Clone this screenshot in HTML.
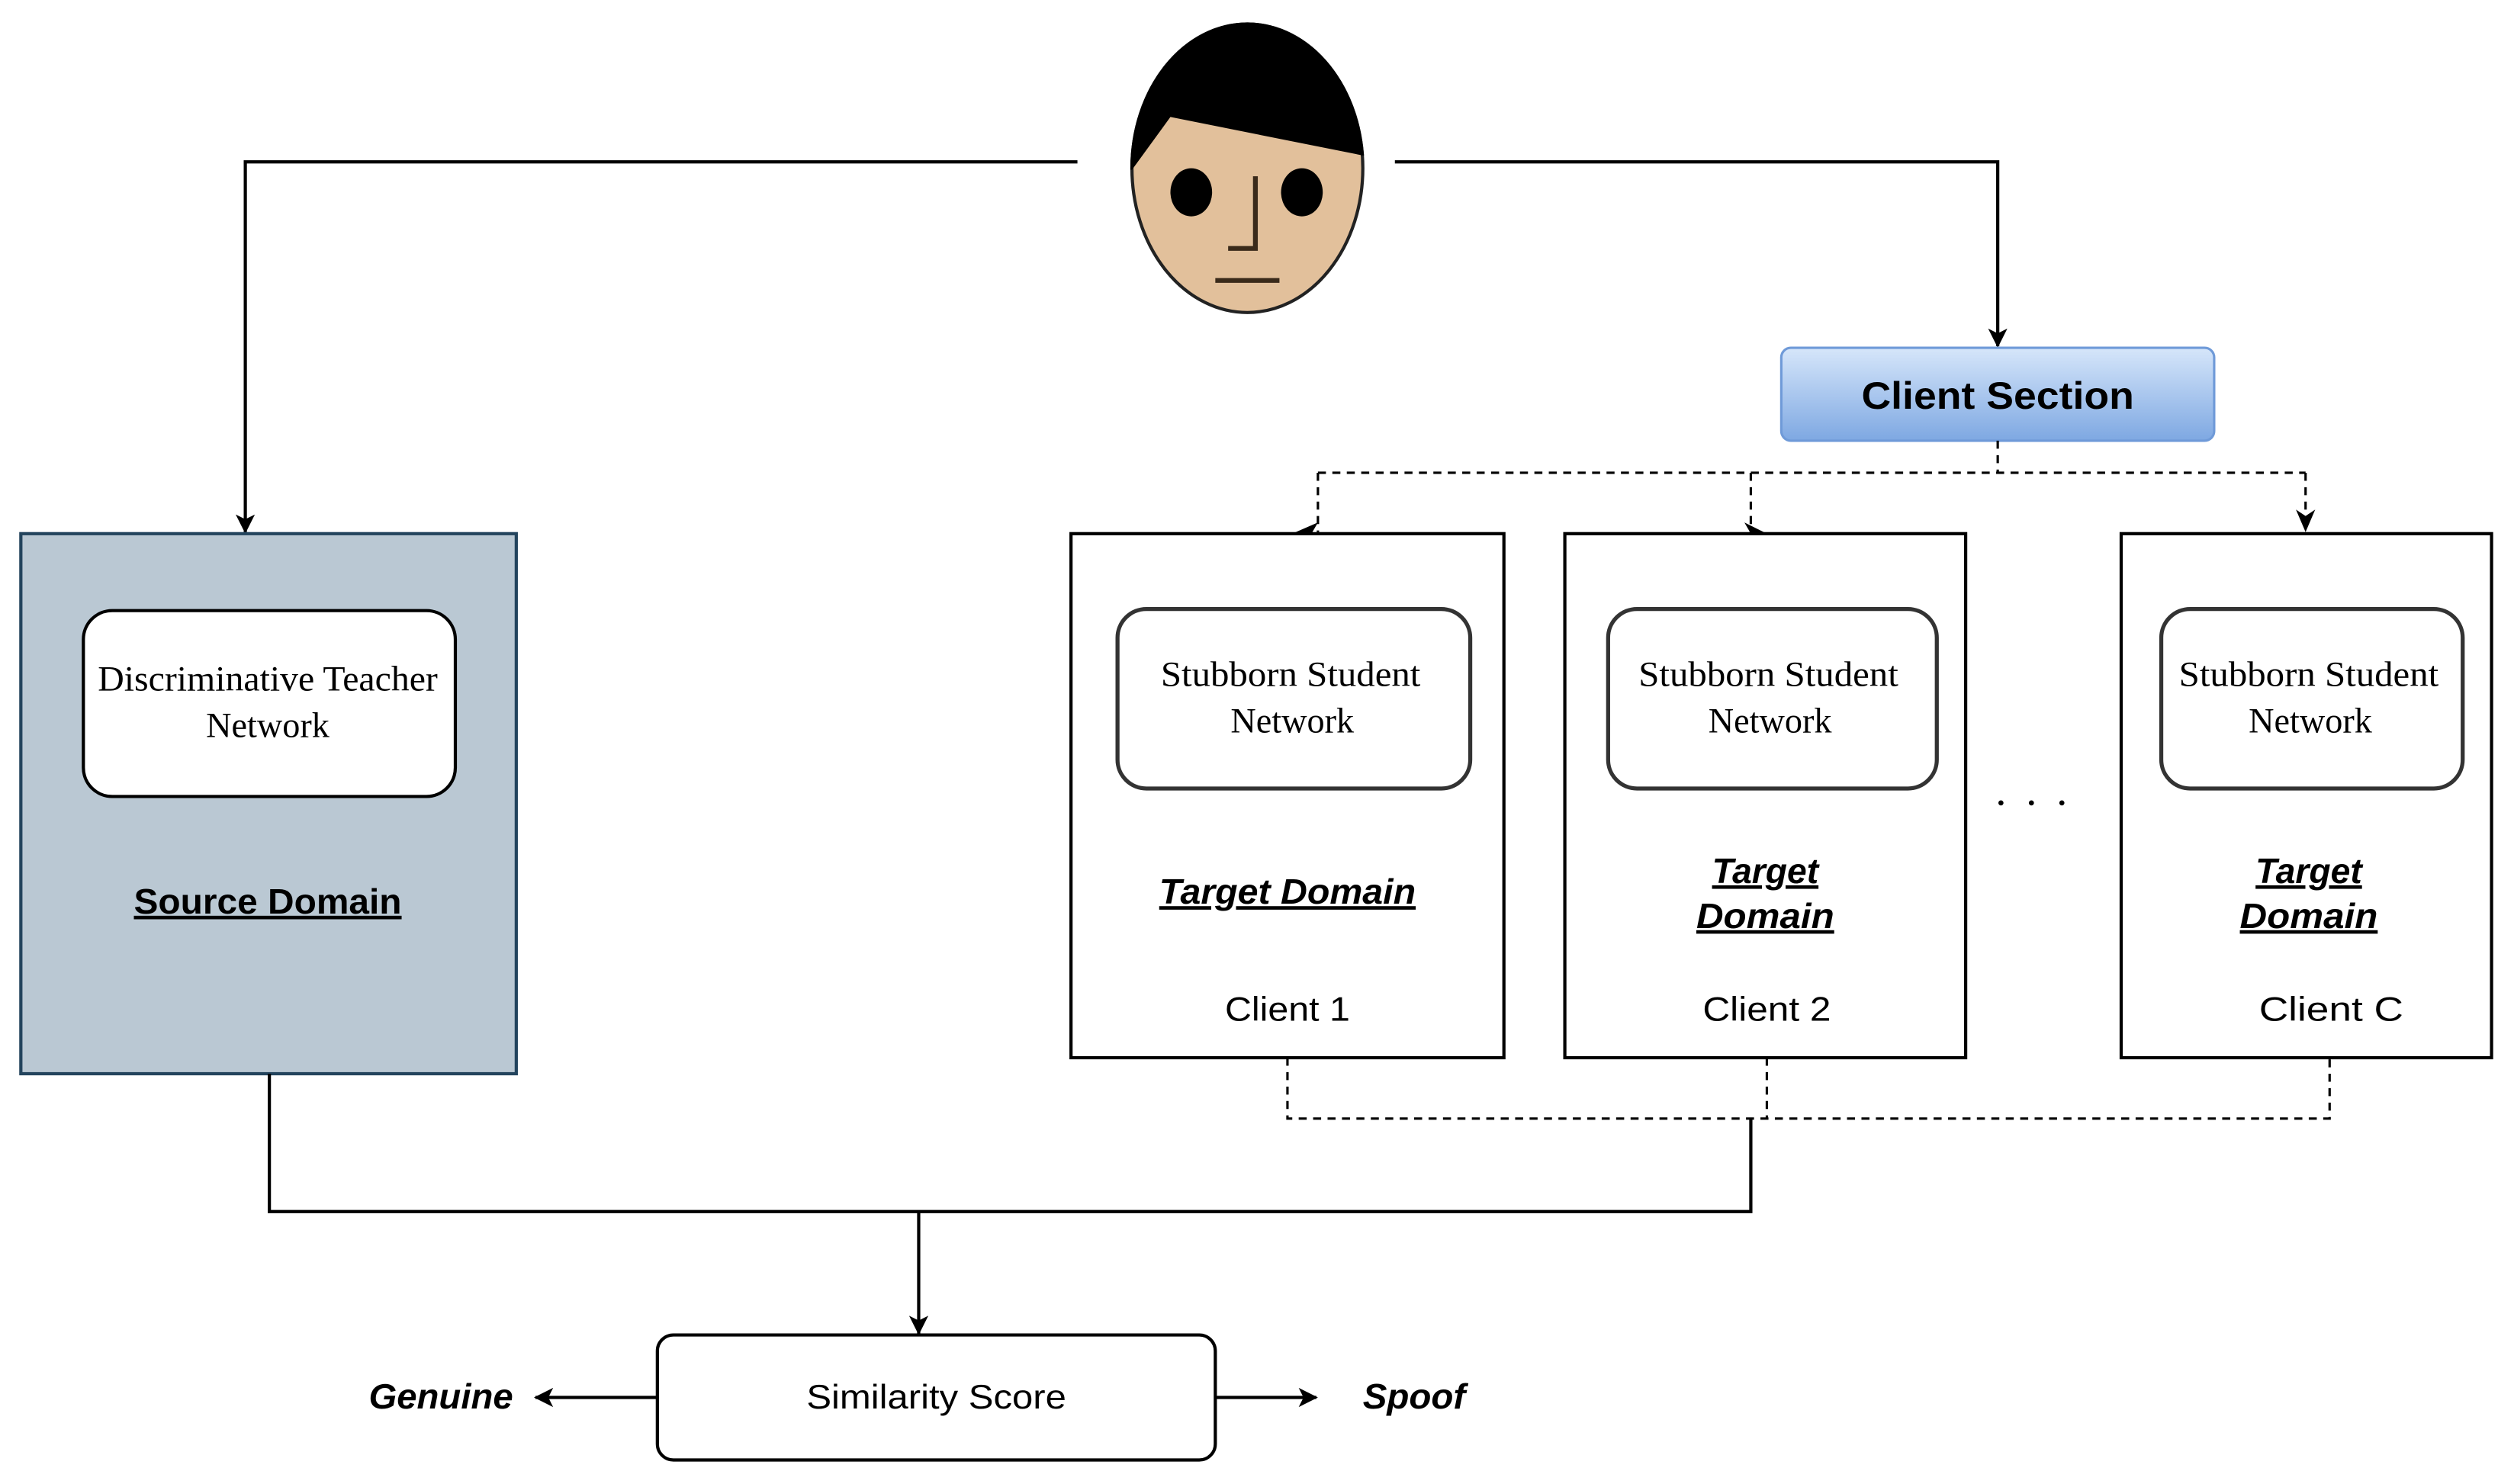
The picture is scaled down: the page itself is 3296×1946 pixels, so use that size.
<!DOCTYPE html>
<html><head><meta charset="utf-8"><style>
html,body{margin:0;padding:0;background:#fff;width:3296px;height:1946px;overflow:hidden}
svg{display:block}
</style></head><body>
<svg width="3296" height="1946" viewBox="0 0 1568 926" preserveAspectRatio="none" xmlns="http://www.w3.org/2000/svg">
<defs>
<linearGradient id="g" x1="0" y1="0" x2="0" y2="1"><stop offset="0" stop-color="#d6e6fa"/><stop offset="1" stop-color="#7ea8e2"/></linearGradient>
<marker id="a" markerWidth="12" markerHeight="12" refX="11" refY="6" orient="auto" markerUnits="userSpaceOnUse"><path d="M0,0 L12,6 L0,12 L3,6 Z" fill="#000"/></marker>
<clipPath id="hc"><polygon points="690,0 870,0 870,97 850,97 730,73 706,106 690,106"/></clipPath>
</defs>
<!-- face -->
<ellipse cx="778" cy="105" rx="72" ry="90" fill="#e2c09b" stroke="#222" stroke-width="2"/>
<ellipse cx="778" cy="105" rx="73" ry="91" fill="#000" clip-path="url(#hc)"/>
<ellipse cx="743" cy="120" rx="13" ry="15" fill="#000"/>
<ellipse cx="812" cy="120" rx="13" ry="15" fill="#000"/>
<path d="M783,110 V155 H766" fill="none" stroke="#3a2a1a" stroke-width="3"/>
<line x1="758" y1="175" x2="798" y2="175" stroke="#3a2a1a" stroke-width="3"/>
<!-- top connectors -->
<path d="M672,101 H153 V332" fill="none" stroke="#000" stroke-width="2" marker-end="url(#a)"/>
<path d="M870,101 H1246 V216" fill="none" stroke="#000" stroke-width="2" marker-end="url(#a)"/>
<!-- client section -->
<rect x="1111" y="217" width="270" height="58" rx="6" fill="url(#g)" stroke="#6f9ad8" stroke-width="1.5"/>
<text x="1246" y="255" font-family="Liberation Sans, sans-serif" font-weight="bold" font-size="24" text-anchor="middle" textLength="170" lengthAdjust="spacingAndGlyphs">Client Section</text>
<!-- dashed distribution -->
<g fill="none" stroke="#000" stroke-width="1.5" stroke-dasharray="5,4">
<path d="M1246,275 V295"/>
<path d="M822,295 H1438"/>
<path d="M822,295 V332"/>
<path d="M1092,295 V332"/>
<path d="M1438,295 V330"/>
<path d="M803,660 V698 H1453 V660"/>
<path d="M1102,660 V698"/>
</g>
<path d="M822,326 L806,333 L822,340 L818,333 Z" fill="#000"/>
<path d="M1088,326 L1102,333 L1088,340 L1092,333 Z" fill="#000"/>
<path d="M1432,318 L1438,332 L1444,318 L1438,322 Z" fill="#000"/>
<!-- source box -->
<rect x="13" y="333" width="309" height="337" fill="#bac8d3" stroke="#23445d" stroke-width="2"/>
<rect x="52" y="381" width="232" height="116" rx="18" fill="#fff" stroke="#000" stroke-width="2"/>
<g font-family="Liberation Serif, serif" font-size="22" text-anchor="middle">
<text x="167" y="431" textLength="212" lengthAdjust="spacingAndGlyphs">Discriminative Teacher</text>
<text x="167" y="460">Network</text>
</g>
<text x="167" y="570" font-family="Liberation Sans, sans-serif" font-weight="bold" font-size="22" text-anchor="middle" text-decoration="underline" textLength="167" lengthAdjust="spacingAndGlyphs">Source Domain</text>
<!-- clients -->
<g fill="#fff" stroke="#000" stroke-width="2">
<rect x="668" y="333" width="270" height="327"/>
<rect x="976" y="333" width="250" height="327"/>
<rect x="1323" y="333" width="231" height="327"/>
</g>
<g fill="#fff" stroke="#333" stroke-width="2.5">
<rect x="697" y="380" width="220" height="112" rx="18"/>
<rect x="1003" y="380" width="205" height="112" rx="18"/>
<rect x="1348" y="380" width="188" height="112" rx="18"/>
</g>
<g font-family="Liberation Serif, serif" font-size="22" text-anchor="middle">
<text x="805" y="428" textLength="162" lengthAdjust="spacingAndGlyphs">Stubborn Student</text>
<text x="806" y="457">Network</text>
<text x="1103" y="428" textLength="162" lengthAdjust="spacingAndGlyphs">Stubborn Student</text>
<text x="1104" y="457">Network</text>
<text x="1440" y="428" textLength="162" lengthAdjust="spacingAndGlyphs">Stubborn Student</text>
<text x="1441" y="457">Network</text>
</g>
<g font-family="Liberation Sans, sans-serif" font-weight="bold" font-style="italic" font-size="22" text-anchor="middle" text-decoration="underline">
<text x="803" y="564" textLength="160" lengthAdjust="spacingAndGlyphs">Target Domain</text>
<text x="1101" y="551">Target</text>
<text x="1101" y="579" textLength="86" lengthAdjust="spacingAndGlyphs">Domain</text>
<text x="1440" y="551">Target</text>
<text x="1440" y="579" textLength="86" lengthAdjust="spacingAndGlyphs">Domain</text>
</g>
<g font-family="Liberation Sans, sans-serif" font-size="21" text-anchor="middle">
<text x="803" y="637" textLength="78" lengthAdjust="spacingAndGlyphs">Client 1</text>
<text x="1102" y="637" textLength="80" lengthAdjust="spacingAndGlyphs">Client 2</text>
<text x="1454" y="637" textLength="90" lengthAdjust="spacingAndGlyphs">Client  C</text>
</g>
<g fill="#000"><circle cx="1248" cy="501" r="1.6"/><circle cx="1267" cy="501" r="1.6"/><circle cx="1286" cy="501" r="1.6"/></g>
<!-- bottom merge -->
<path d="M168,670 V756 H1092 V698" fill="none" stroke="#000" stroke-width="2"/>
<path d="M573,756 V832" fill="none" stroke="#000" stroke-width="2" marker-end="url(#a)"/>
<rect x="410" y="833" width="348" height="78" rx="10" fill="#fff" stroke="#000" stroke-width="2"/>
<text x="584" y="879" font-family="Liberation Sans, sans-serif" font-size="21" text-anchor="middle" textLength="162" lengthAdjust="spacingAndGlyphs">Similarity Score</text>
<path d="M410,872 H334" fill="none" stroke="#000" stroke-width="2" marker-end="url(#a)"/>
<path d="M758,872 H821" fill="none" stroke="#000" stroke-width="2" marker-end="url(#a)"/>
<g font-family="Liberation Sans, sans-serif" font-weight="bold" font-style="italic" font-size="22">
<text x="320" y="879" text-anchor="end" textLength="90" lengthAdjust="spacingAndGlyphs">Genuine</text>
<text x="850" y="879" textLength="64" lengthAdjust="spacingAndGlyphs">Spoof</text>
</g>
</svg>
</body></html>
